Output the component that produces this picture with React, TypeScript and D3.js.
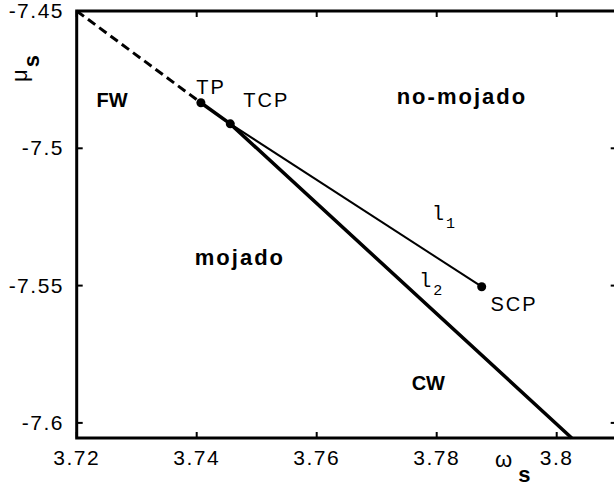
import React from 'react';
import * as d3 from 'd3';

// tick values
const xTicks = [3.72, 3.74, 3.76, 3.78, 3.8];
const yTicks = [-7.45, -7.5, -7.55, -7.6];

// special points [omega, mu]
const TP: [number, number] = [3.7407, -7.4834];
const TCP: [number, number] = [3.7456, -7.4911];
const SCP: [number, number] = [3.7875, -7.5504];

// metastable (dashed) branch
const dashedLine: [number, number][] = [[3.72, -7.45], TP];
// coexistence line, thick
const thickLine: [number, number][] = [TP, TCP, [3.8025, -7.6055]];
// l1 branch, thin
const thinLine: [number, number][] = [TCP, SCP];

const points = [
  { name: 'TP', p: TP },
  { name: 'TCP', p: TCP },
  { name: 'SCP', p: SCP },
];

const regionLabels = [
  { text: 'FW', x: 3.7259, y: -7.485 },
  { text: 'no-mojado', x: 3.7842, y: -7.4839 },
  { text: 'mojado', x: 3.7472, y: -7.5425 },
  { text: 'CW', x: 3.7786, y: -7.588 },
];

const pointLabels = [
  { text: 'TP', x: 3.7424, y: -7.4802 },
  { text: 'TCP', x: 3.7516, y: -7.485 },
  { text: 'SCP', x: 3.7929, y: -7.5592 },
];

const lineLabels = [
  { text: 'l', sub: '1', x: 3.7792, y: -7.5261 },
  { text: 'l', sub: '2', x: 3.7771, y: -7.5505 },
];

const W = 614;
const H = 488;
const FONT = '"Liberation Sans", Arial, sans-serif';

export default function App() {
  const x = d3.scaleLinear().domain([3.72, 3.81]).range([76.7, 616.7]);
  const y = d3.scaleLinear().domain([-7.6055, -7.45]).range([438, 11]);
  const line = d3.line<[number, number]>().x(d => x(d[0])).y(d => y(d[1]));

  const [x0, x1] = x.range();
  const [y0, y1] = y.range();

  return (
    <svg width={W} height={H} style={{ position: 'absolute', left: 0, top: 0, background: '#fff' }}>
      {/* frame */}
      <rect x={x0} y={y1} width={x1 - x0} height={y0 - y1} fill="none" stroke="#000" strokeWidth={3} />

      {/* ticks */}
      {xTicks.map(t => (
        <g key={'x' + t}>
          <line x1={x(t)} x2={x(t)} y1={y0} y2={y0 - 6} stroke="#000" strokeWidth={2} />
          <line x1={x(t)} x2={x(t)} y1={y1} y2={y1 + 6} stroke="#000" strokeWidth={2} />
          <text x={x(t)} y={465} textAnchor="middle" fontFamily={FONT} fontSize={21} letterSpacing={1.5}>
            {String(t)}
          </text>
        </g>
      ))}
      {yTicks.map(t => (
        <g key={'y' + t}>
          <line x1={x0} x2={x0 + 6} y1={y(t)} y2={y(t)} stroke="#000" strokeWidth={2} />
          <line x1={x1} x2={x1 - 6} y1={y(t)} y2={y(t)} stroke="#000" strokeWidth={2} />
          <text x={64} y={y(t) + 7} textAnchor="end" fontFamily={FONT} fontSize={21} letterSpacing={1.5}>
            {String(t)}
          </text>
        </g>
      ))}

      {/* axis titles */}
      <text x={495} y={467} fontFamily={FONT} fontSize={22}>
        ω
        <tspan fontWeight="bold" dx={6} dy={15}>s</tspan>
      </text>
      <text transform="translate(27,82) rotate(-90)" fontFamily={FONT} fontSize={22}>
        μ
        <tspan fontWeight="bold" dx={2} dy={12}>s</tspan>
      </text>

      {/* lines */}
      <path d={line(dashedLine) || ''} fill="none" stroke="#000" strokeWidth={3} strokeDasharray="9,5" />
      <path d={line(thickLine) || ''} fill="none" stroke="#000" strokeWidth={3.5} />
      <path d={line(thinLine) || ''} fill="none" stroke="#000" strokeWidth={2} />

      {points.map(d => (
        <circle key={d.name} cx={x(d.p[0])} cy={y(d.p[1])} r={4.5} fill="#000" />
      ))}

      {regionLabels.map(d => {
        const caps = d.text === d.text.toUpperCase();
        return (
          <text key={d.text} x={x(d.x)} y={y(d.y)} textAnchor="middle" fontFamily={FONT}
            fontSize={caps ? 20 : 22} fontWeight="bold" letterSpacing={caps ? 0 : 2}>
            {d.text}
          </text>
        );
      })}
      {pointLabels.map(d => (
        <text key={d.text} x={x(d.x)} y={y(d.y)} textAnchor="middle" fontFamily={FONT} fontSize={20} letterSpacing={2}>
          {d.text}
        </text>
      ))}
      {lineLabels.map(d => (
        <text key={d.sub} x={x(d.x)} y={y(d.y)} fontFamily='"Liberation Mono", "DejaVu Sans Mono", monospace' fontSize={20}>
          {d.text}
          <tspan dx={2} dy={8} fontSize={15}>{d.sub}</tspan>
        </text>
      ))}
    </svg>
  );
}
